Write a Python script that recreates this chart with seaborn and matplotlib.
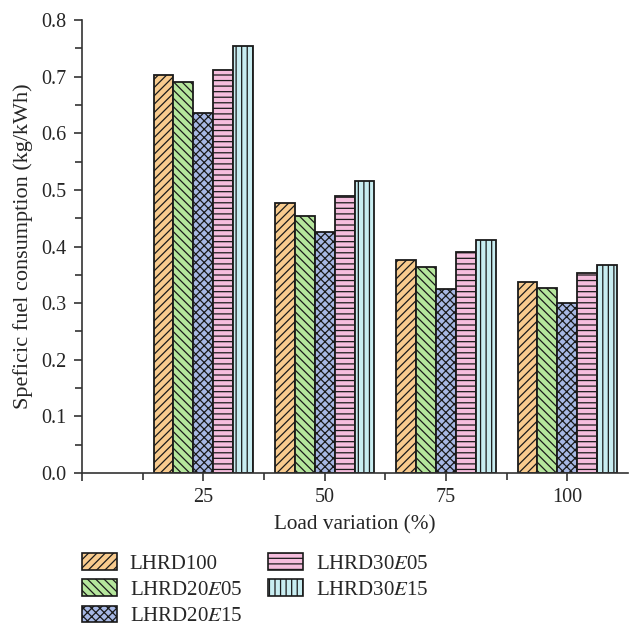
import numpy as np
import pandas as pd
import matplotlib
matplotlib.use("Agg")
import matplotlib.pyplot as plt
import matplotlib.patches as mpatches
import seaborn as sns

# ---- data ----
loads = ["25", "50", "75", "100"]
fuels = ["LHRD100", "LHRD20E05", "LHRD20E15", "LHRD30E05", "LHRD30E15"]
fuel_labels = ["LHRD100", r"LHRD20$\mathit{E}$05", r"LHRD20$\mathit{E}$15",
               r"LHRD30$\mathit{E}$05", r"LHRD30$\mathit{E}$15"]
lhrd100 = [0.703, 0.477, 0.376, 0.338]
lhrd20e05 = [0.691, 0.454, 0.364, 0.327]
lhrd20e15 = [0.636, 0.426, 0.325, 0.300]
lhrd30e05 = [0.711, 0.489, 0.391, 0.354]
lhrd30e15 = [0.754, 0.515, 0.412, 0.367]
y_ticks = [0.0, 0.1, 0.2, 0.3, 0.4, 0.5, 0.6, 0.7, 0.8]

colors = ["#F8CB8E", "#B5E69C", "#A7B8E4", "#F5BDDD", "#C8EDF1"]
hatches = ["////", "\\\\\\\\", "xxxx", "---", "|||"]

series = [lhrd100, lhrd20e05, lhrd20e15, lhrd30e05, lhrd30e15]
rows = []
for f, vals in zip(fuels, series):
    for l, v in zip(loads, vals):
        rows.append({"load": l, "fuel": f, "sfc": v})
df = pd.DataFrame(rows)

sns.set_theme(style="ticks")
plt.rcParams["font.family"] = ["Liberation Serif", "DejaVu Serif"]
plt.rcParams["mathtext.fontset"] = "stix"
plt.rcParams["hatch.linewidth"] = 0.9
plt.rcParams["hatch.color"] = "#2a2a2a"

fig = plt.figure(figsize=(6.29, 6.31), dpi=100)
ax = fig.add_axes([82 / 629, 1 - 473 / 631, (628 - 82) / 629, (473 - 20) / 631])

sns.barplot(data=df, x="load", y="sfc", hue="fuel", order=loads, hue_order=fuels,
            palette=colors, width=0.82, edgecolor="#1a1a1a", linewidth=1.3,
            saturation=1, ax=ax, legend=False)

for cont, h in zip(ax.containers, hatches):
    for p in cont.patches:
        p.set_hatch(h)

ax.set_xlim(-1, 3.5)
ax.set_ylim(0, 0.8)
ax.set_xticks([-1, 0, 1, 2, 3])
ax.set_xticklabels(["", "25", "50", "75", "100"], fontsize=14.5)
ax.set_xticks([-0.5, 0.5, 1.5, 2.5], minor=True)
ax.set_yticks(y_ticks)
ax.set_yticklabels([f"{t:.1f}" for t in y_ticks], fontsize=14.5)
ax.set_yticks(np.arange(0.05, 0.8, 0.1), minor=True)
ax.tick_params(axis="both", which="major", length=6, width=1.2, color="#333333", direction="out", pad=5)
ax.tick_params(axis="both", which="minor", length=5, width=1.2, color="#333333", direction="out")
for s in ["left", "bottom"]:
    ax.spines[s].set_linewidth(1.2)
    ax.spines[s].set_color("#333333")
sns.despine(ax=ax)

ax.set_xlabel("Load variation (%)", fontsize=15.3, labelpad=6)
ax.set_ylabel("Speficic fuel consumption (kg/kWh)", fontsize=16, labelpad=6)

handles = [mpatches.Patch(facecolor=c, edgecolor="#1a1a1a", hatch=h, linewidth=1.2, label=lab)
           for c, h, lab in zip(colors, hatches, fuel_labels)]
fig.legend(handles=handles, loc="upper left", bbox_to_anchor=(74 / 629, 1 - 545 / 631),
           ncol=2, frameon=False, fontsize=15, handlelength=1.65, handleheight=0.82,
           handletextpad=0.63, columnspacing=1.25, labelspacing=0.28, borderaxespad=0)

fig.savefig("out.png", dpi=100)
